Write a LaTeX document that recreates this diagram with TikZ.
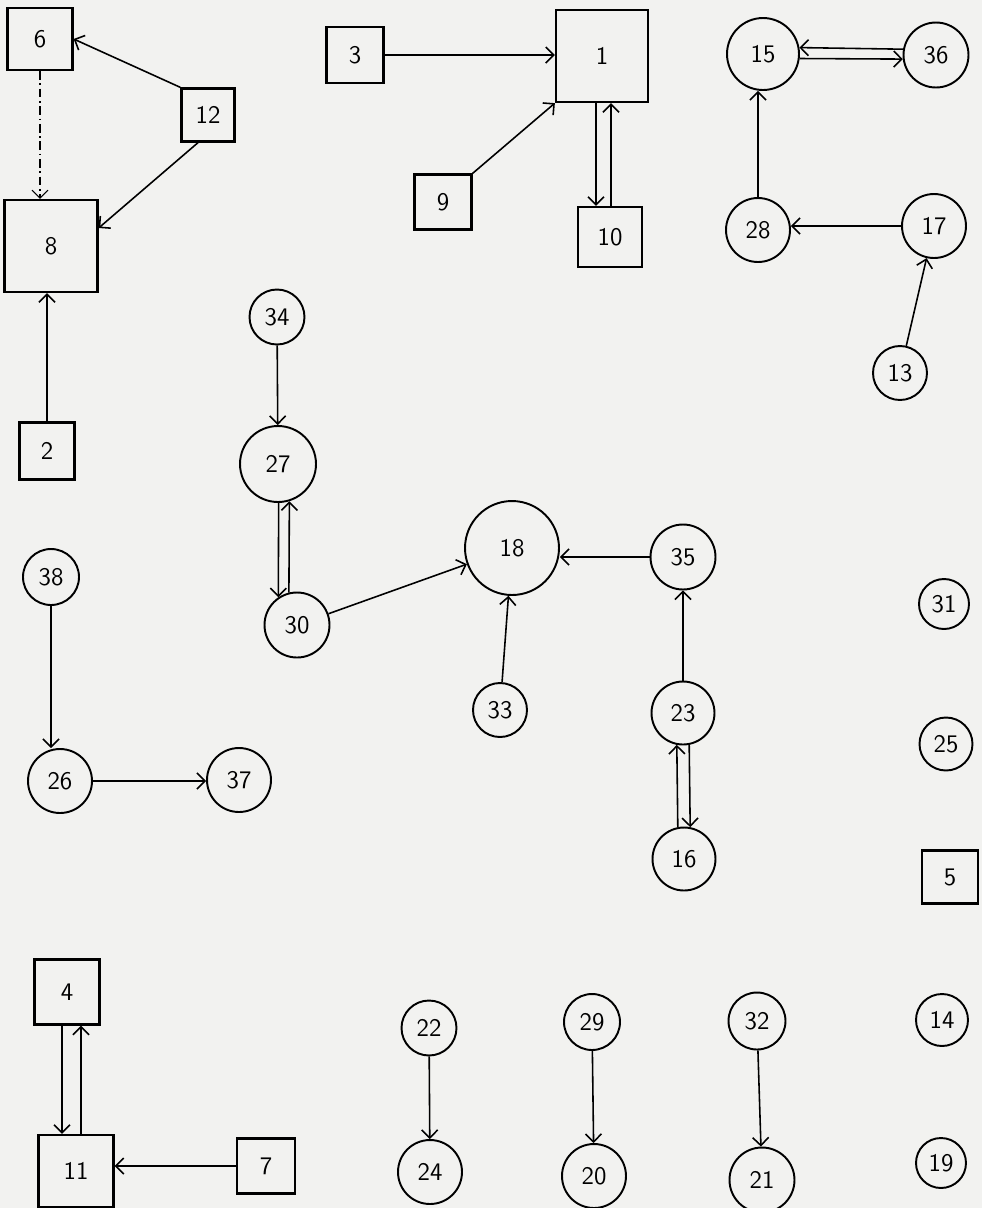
\documentclass[tikz,border=0pt]{standalone}
\usetikzlibrary{arrows.meta, positioning}
\definecolor{paper}{RGB}{242,242,240}

\begin{document}
\begin{tikzpicture}[x=0.02cm, y=-0.02cm,
        box/.style={rectangle, draw, line width=1.3pt, inner sep=0pt, minimum width=#1, minimum height=#1, font=\Large\sffamily},
        box/.default=1.1cm,
        circ/.style={circle, draw, line width=1.1pt, inner sep=0pt, minimum size=#1, font=\Large\sffamily},
        circ/.default=1.28cm,
        link/.style={->, line width=0.9pt},
        >={Straight Barb[length=1.6mm, width=3.2mm]}
    ]
        \fill[paper] (0,0) rectangle (982,1208);
        \useasboundingbox (0,0) rectangle (982,1208);

        \node[box=1.30cm, minimum height=1.24cm] (n6) at (40,39) {6};
        \node[box=1.06cm] (n12) at (208,115) {12};
        \node[box=1.86cm, minimum height=1.84cm] (n8) at (51,246) {8};
        \node[box=1.10cm, minimum height=1.14cm] (n2) at (47,451) {2};
        \node[box=1.14cm, minimum height=1.12cm] (n3) at (355,55) {3};
        \node[box=1.84cm] (n1) at (602,56) {1};
        \node[box=1.14cm, minimum height=1.10cm] (n9) at (443,202) {9};
        \node[box=1.28cm, minimum height=1.20cm] (n10) at (610,237) {10};
        \node[box=1.12cm, minimum height=1.06cm] (n5) at (950,877) {5};
        \node[box=1.30cm] (n4) at (67,992) {4};
        \node[box=1.50cm, minimum height=1.44cm] (n11) at (76,1171) {11};
        \node[box=1.16cm, minimum height=1.10cm] (n7) at (266,1166) {7};

        \node[circ=1.44cm] (n15) at (763,54) {15};
        \node[circ=1.30cm] (n36) at (936,55) {36};
        \node[circ] (n28) at (758,230) {28};
        \node[circ] (n17) at (934,226) {17};
        \node[circ=1.08cm] (n13) at (900,373) {13};
        \node[circ=1.10cm] (n34) at (277,317) {34};
        \node[circ=1.52cm] (n27) at (278,464) {27};
        \node[circ=1.30cm] (n30) at (297,625) {30};
        \node[circ=1.88cm] (n18) at (512,548) {18};
        \node[circ=1.30cm] (n35) at (683,557) {35};
        \node[circ=1.08cm] (n33) at (500,710) {33};
        \node[circ=1.26cm] (n23) at (683,713) {23};
        \node[circ=1.26cm] (n16) at (684,859) {16};
        \node[circ=1.12cm] (n38) at (51,577) {38};
        \node[circ] (n26) at (60,781) {26};
        \node[circ] (n37) at (239,780) {37};
        \node[circ=1.00cm] (n31) at (944,604) {31};
        \node[circ=1.06cm] (n25) at (946,744) {25};
        \node[circ=1.04cm] (n14) at (942,1020) {14};
        \node[circ=1.00cm] (n19) at (941,1163) {19};
        \node[circ=1.10cm] (n22) at (429,1028) {22};
        \node[circ] (n24) at (430,1172) {24};
        \node[circ=1.12cm] (n29) at (592,1022) {29};
        \node[circ] (n20) at (594,1176) {20};
        \node[circ=1.14cm] (n32) at (757,1021) {32};
        \node[circ=1.30cm] (n21) at (762,1180) {21};

        \draw[link, line width=0.6pt, dash pattern=on 5pt off 2pt on 1pt off 2pt] (n6.south) -- (n6.south |- n8.north);
        \draw[link] (n12.north west) -- (n6.east);
        \draw[link] ([xshift=-0.2cm]n12.south) -- ([yshift=0.36cm]n8.east);
        \draw[link] (n2.north) -- (n2.north |- n8.south);
        \draw[link] (n3.east) -- (n3.east -| n1.west);
        \draw[link] (n9.north east) -- (n1.south west);
        \draw[link] ([xshift=-0.12cm]n1.south) -- ([xshift=-0.28cm]n10.north);
        \draw[link] ([xshift=0.02cm]n10.north) -- ([xshift=0.18cm]n1.south);
        \draw[link] (n36.170) -- (n15.10);
        \draw[link] (n15.-7) -- (n36.187);
        \draw[link] (n28.north) -- (n28.north |- n15.south);
        \draw[link] (n17.west) -- (n17.west -| n28.east);
        \draw[link] (n13) -- (n17);
        \draw[link] (n34) -- (n27);
        \draw[link] (n27.271) -- (n30.124);
        \draw[link] (n30.104) -- (n27.287);
        \draw[link] (n30) -- (n18);
        \draw[link] (n35.west) -- (n35.west -| n18.east);
        \draw[link] (n33) -- (n18);
        \draw[link] (n23) -- (n35);
        \draw[link] (n16.101) -- (n23.259);
        \draw[link] (n23.281) -- (n16.79);
        \draw[link] (n38.south) -- (n38.south |- n26.north);
        \draw[link] (n26.east) -- (n26.east -| n37.west);
        \draw[link] ([xshift=-0.1cm]n4.south) -- ([xshift=-0.28cm]n11.north);
        \draw[link] ([xshift=0.1cm]n11.north) -- ([xshift=0.28cm]n4.south);
        \draw[link] (n7.west) -- (n7.west -| n11.east);
        \draw[link] (n22) -- (n24);
        \draw[link] (n29) -- (n20);
        \draw[link] (n32) -- (n21);
    \end{tikzpicture}
\end{document}
